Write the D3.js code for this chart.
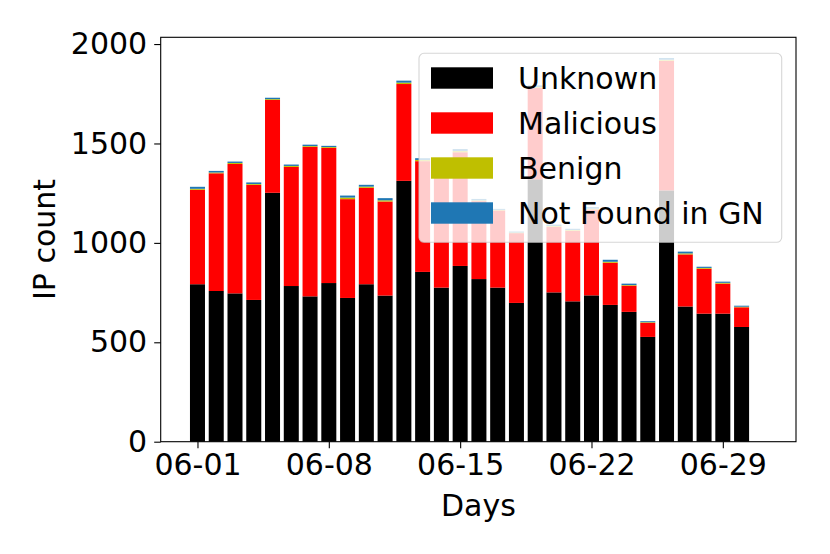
<!DOCTYPE html>
<html>
<head>
<meta charset="utf-8">
<script src="https://cdn.jsdelivr.net/npm/d3@7"></script>
<style>
  body { margin: 0; background: #fff; }
  text { font-family: 'DejaVu Sans', sans-serif; }
</style>
</head>
<body>
<div class="chart"></div>
<script>
const width = 830;
const height = 554;

// data
const days = ['06-01', '06-02', '06-03', '06-04', '06-05', '06-06', '06-07', '06-08', '06-09', '06-10',
  '06-11', '06-12', '06-13', '06-14', '06-15', '06-16', '06-17', '06-18', '06-19', '06-20',
  '06-21', '06-22', '06-23', '06-24', '06-25', '06-26', '06-27', '06-28', '06-29', '06-30'];
const unknown = [792, 758, 746, 713, 1252, 783, 731, 798, 723, 792,
  735, 1312, 854, 775, 884, 818, 775, 698, 1320, 751,
  706, 736, 688, 653, 527, 1264, 680, 644, 644, 577];
const malicious = [475, 592, 651, 579, 467, 599, 752, 680, 497, 485,
  473, 487, 557, 605, 572, 392, 388, 351, 460, 330,
  355, 432, 212, 132, 71, 652, 262, 226, 151, 99];
const benign = [5, 4, 5, 4, 4, 5, 4, 4, 8, 6,
  6, 7, 6, 5, 6, 4, 3, 3, 4, 4,
  4, 4, 5, 3, 3, 5, 5, 4, 4, 3];
const notFound = [10, 8, 7, 8, 7, 7, 7, 6, 10, 9,
  11, 10, 9, 8, 10, 7, 5, 5, 8, 7,
  6, 8, 10, 7, 5, 9, 9, 6, 6, 5];
const seriesNames = ['Unknown', 'Malicious', 'Benign', 'Not Found in GN'];
const seriesColors = ['#000000', '#ff0000', '#bfbf00', '#1f77b4'];
const xTicks = [0, 7, 14, 21, 28];
const yTicks = [0, 500, 1000, 1500, 2000];

const plotLeft = 160.7, plotRight = 796, plotTop = 37.3, plotBottom = 441.7;
const fontSize = 30;

const rows = days.map((d, i) => ({
  i: i,
  Unknown: unknown[i],
  Malicious: malicious[i],
  Benign: benign[i],
  'Not Found in GN': notFound[i]
}));
const stacked = d3.stack().keys(seriesNames)(rows);

const x = d3.scaleLinear().domain([-1.96, 31.9]).range([plotLeft, plotRight]);
const y = d3.scaleLinear().domain([0, 2034]).range([plotBottom, plotTop]);
const barW = (x(1) - x(0)) * 0.8;

const svg = d3
  .select('.chart')
  .append('svg')
  .attr('width', width)
  .attr('height', height);

// bars
svg
  .selectAll('.series')
  .data(stacked)
  .enter()
  .append('g')
  .attr('class', 'series')
  .attr('fill', (d, k) => seriesColors[k])
  .selectAll('rect')
  .data(d => d)
  .enter()
  .append('rect')
  .attr('x', d => x(d.data.i) - barW / 2)
  .attr('width', barW)
  .attr('y', d => y(d[1]))
  .attr('height', d => y(d[0]) - y(d[1]));

// axes
const xAxis = d3
  .axisBottom(x)
  .tickValues(xTicks)
  .tickFormat(i => days[i])
  .tickSizeOuter(0)
  .tickSize(6.5)
  .tickPadding(6);
const yAxis = d3
  .axisLeft(y)
  .tickValues(yTicks)
  .tickFormat(d3.format('d'))
  .tickSizeOuter(0)
  .tickSize(6.5)
  .tickPadding(7);

const gx = svg
  .append('g')
  .attr('transform', `translate(0,${plotBottom})`)
  .call(xAxis);
const gy = svg
  .append('g')
  .attr('transform', `translate(${plotLeft},0)`)
  .call(yAxis);

[gx, gy].forEach(g => {
  g.select('.domain').remove();
  g.selectAll('line').attr('stroke', '#000').attr('stroke-width', 1.1);
  g.selectAll('text')
    .attr('fill', '#000')
    .style('font-size', fontSize + 'px')
    .style('font-family', "'DejaVu Sans', sans-serif");
});

// frame
svg
  .append('rect')
  .attr('x', plotLeft)
  .attr('y', plotTop)
  .attr('width', plotRight - plotLeft)
  .attr('height', plotBottom - plotTop)
  .attr('fill', 'none')
  .attr('stroke', '#000')
  .attr('stroke-width', 1.1);

// axis labels
svg
  .append('text')
  .attr('x', (plotLeft + plotRight) / 2)
  .attr('y', 515.5)
  .attr('text-anchor', 'middle')
  .style('font-size', fontSize + 'px')
  .text('Days');
svg
  .append('text')
  .attr('transform', `translate(55,${(plotTop + plotBottom) / 2}) rotate(-90)`)
  .attr('text-anchor', 'middle')
  .style('font-size', fontSize + 'px')
  .text('IP count');

// legend
const legend = svg.append('g');
legend
  .append('rect')
  .attr('x', 419)
  .attr('y', 53.3)
  .attr('width', 362.7)
  .attr('height', 189)
  .attr('rx', 5)
  .attr('fill', '#fff')
  .attr('fill-opacity', 0.8)
  .attr('stroke', '#cccccc')
  .attr('stroke-opacity', 0.8)
  .attr('stroke-width', 1.1);
const items = legend
  .selectAll('.item')
  .data(seriesNames)
  .enter()
  .append('g')
  .attr('class', 'item')
  .attr('transform', (d, k) => `translate(0,${67.3 + k * 45})`);
items
  .append('rect')
  .attr('x', 431)
  .attr('width', 62)
  .attr('height', 21.4)
  .attr('fill', (d, k) => seriesColors[k]);
items
  .append('text')
  .attr('x', 518)
  .attr('y', 21.6)
  .style('font-size', fontSize + 'px')
  .text(d => d);
</script>
</body>
</html>
